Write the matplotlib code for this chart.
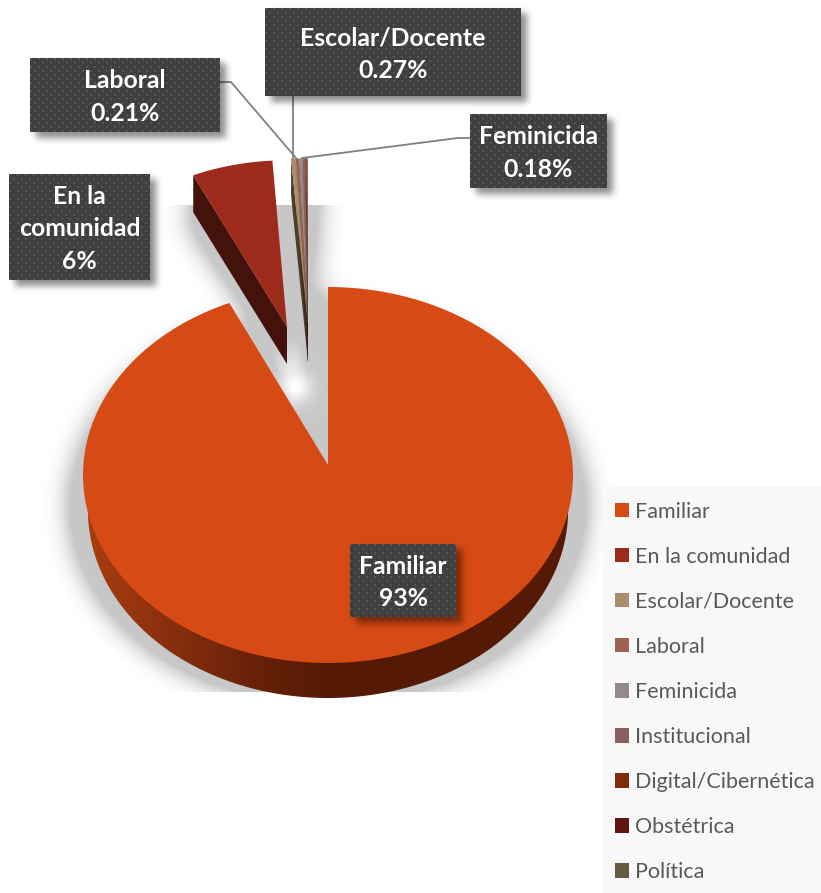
import numpy as np
import matplotlib
matplotlib.use('Agg')
import matplotlib.pyplot as plt
from matplotlib.patches import Polygon, Patch, Rectangle
from matplotlib.path import Path

categories = ['Familiar', 'En la comunidad', 'Escolar/Docente', 'Laboral', 'Feminicida',
              'Institucional', 'Digital/Cibernética', 'Obstétrica', 'Política']
values = [93.4, 5.6, 0.27, 0.21, 0.18, 0.17, 0.08, 0.05, 0.04]
colors = ['#D64A16', '#9C2B1B', '#A68F6A', '#9B6350', '#958888', '#8A5F60', '#7E2C0C', '#5F1510', '#645A3F']
wall_colors = ['#551A06', '#43120A', '#4A3F2A', '#3A2A20', '#3A3030', '#3A2A2A', '#3A1608', '#2A0A08', '#2A2618']
label_names = ['Familiar', 'En la\ncomunidad', 'Escolar/Docente', 'Laboral', 'Feminicida']
label_pcts = ['93%', '6%', '0.27%', '0.21%', '0.18%']

W, H = 821, 893
CX, CY = 328, 465
RX, RY = 245, 188
SKEW = 10
box_rects = [(350, 544, 456, 617), (9, 174, 150, 280), (265, 8, 521, 96), (30, 58, 220, 132), (470, 114, 607, 188)]
leaders = [None, None, [(293, 96), (293, 158)], [(220, 82), (231, 82), (296, 158)], [(470, 138), (458, 138), (302, 158)]]

angles = np.concatenate([[0], np.cumsum(values)]) / sum(values) * 360
grid_y, grid_x = np.mgrid[0:H, 0:W]
grid = np.column_stack([grid_x.ravel() + 0.5, grid_y.ravel() + 0.5])


def arc(start, end, ax0=CX, ay0=CY, sx=1.0, sy=1.0, n=200):
    th = np.radians(np.linspace(start, end, n))
    return np.column_stack([ax0 + RX * sx * np.sin(th), ay0 - RY * sy * np.cos(th) + SKEW])


def wedge(start, end, ax0=CX, ay0=CY, sx=1.0, sy=1.0, n=200):
    return np.vstack([[ax0, ay0], arc(start, end, ax0, ay0, sx, sy, n)])


def blur(img, sigma):
    r = int(sigma * 3)
    k = np.exp(-0.5 * (np.arange(-r, r + 1) / sigma) ** 2)
    k /= k.sum()
    img = np.apply_along_axis(lambda v: np.convolve(v, k, mode='same'), 0, img)
    return np.apply_along_axis(lambda v: np.convolve(v, k, mode='same'), 1, img)


def mask_of(poly):
    return Path(poly).contains_points(grid).reshape(H, W).astype(float)


def shadow_image(alpha):
    rgba = np.zeros((H, W, 4))
    rgba[..., 3] = alpha
    return rgba


def dotted(x0, y0, x1, y1):
    w, h = x1 - x0, y1 - y0
    yy, xx = np.mgrid[0:h, 0:w]
    img = np.full((h, w, 3), 0x3F / 255)
    on = ((yy % 8 < 2) & (xx % 8 < 2)) | (((yy + 4) % 8 < 2) & ((xx + 4) % 8 < 2))
    img[on] = 0x54 / 255
    return img


fig = plt.figure(figsize=(W / 100, H / 100), dpi=100)
ax = fig.add_axes([0, 0, 1, 1])

# apex of each slice after pulling it out of the pie
apex = [(CX, CY), (287, 327)] + [(308, 325)] * 7
scale = [(1.0, 1.0), (0.95, 0.94)] + [(1.1, 0.94)] * 7

# shadow under the pie, cut off flat at top and bottom like the original
main = mask_of(wedge(angles[0], angles[1], CX, CY, 1.04, 1.03) + [0, 32])
inner = mask_of(wedge(angles[0], angles[1], CX, CY, 0.85, 0.85))
out1 = mask_of(wedge(angles[1] - 2, angles[2] + 2, apex[1][0], apex[1][1], 0.95, 0.94))
out1b = mask_of(wedge(angles[1] - 2, angles[2] + 2, apex[1][0], apex[1][1], 0.95, 0.94) + [0, 37])
out2 = mask_of(wedge(angles[2] - 3, 362, apex[2][0], apex[2][1], 0.95, 0.94) + [0, 20])
column = mask_of([(306, 300), (330, 300), (330, 470), (318, 470)])
shadow = blur(np.maximum.reduce([main, inner, out1, out1b, out2, column]), 14)
shadow = np.clip(shadow * 2.5, 0, 1) * 0.22
# light spot in the gap between the slices
shadow *= 1 - 0.95 * np.exp(-((grid_x - 295) ** 2 + (grid_y - 387) ** 2) / (2 * 11.0 ** 2))
shadow[:205] = 0
shadow[692:] = 0
ax.imshow(shadow_image(shadow), extent=(0, W, H, 0), aspect='auto', zorder=1, interpolation='nearest')

# side wall of the main slice
wall_poly = np.vstack([arc(90, 90, n=1), arc(90, 270, CX, CY + 35, 0.98, 1.0, n=300), arc(270, 270, n=1)])
wall_patch = Polygon(wall_poly, closed=True, fc='none', ec='none', zorder=2)
ax.add_patch(wall_patch)
gx = np.arange(W)
ramp_x = [85, 140, 200, 260, 330, 573]
ramp_r = [0xAA, 0x94, 0x7C, 0x66, 0x55, 0x55]
ramp_g = [0x3E, 0x34, 0x2A, 0x20, 0x1A, 0x1A]
ramp_b = [0x10, 0x0E, 0x0C, 0x08, 0x06, 0x06]
ramp = np.stack([np.interp(gx, ramp_x, ramp_r), np.interp(gx, ramp_x, ramp_g), np.interp(gx, ramp_x, ramp_b)], axis=1)[None] / 255
ramp_im = ax.imshow(ramp, extent=(0, W, H, 0), aspect='auto', zorder=2)
ramp_im.set_clip_path(wall_patch)

# slices, the pulled out ones with a dark wall below their left edge
for i in range(len(values)):
    a0, a1 = angles[i], angles[i + 1]
    ax0, ay0 = apex[i]
    sx, sy = scale[i]
    face = wedge(a0, a1, ax0, ay0, sx, sy)
    if i > 0:
        corner = face[1]
        ax.add_patch(Polygon([(ax0, ay0), (ax0, ay0 + 37), (corner[0], corner[1] + 37), tuple(corner)],
                             closed=True, fc=wall_colors[i], ec='none', zorder=3))
for i in range(len(values)):
    face = wedge(angles[i], angles[i + 1], apex[i][0], apex[i][1], scale[i][0], scale[i][1])
    ax.add_patch(Polygon(face, closed=True, fc=colors[i], ec='none', zorder=4))

# leader lines
for pts in leaders:
    if pts:
        ax.plot([p[0] for p in pts], [p[1] for p in pts], color='#808080', lw=1.3, zorder=5)

# label boxes with soft shadow and dotted fill
box_sh = np.zeros((H, W))
for (x0, y0, x1, y1) in box_rects:
    box_sh[y0 + 5:y1 + 6, x0 + 6:x1 + 6] = 1
ax.imshow(shadow_image(blur(box_sh, 3.5) * 0.45), extent=(0, W, H, 0), aspect='auto', zorder=6, interpolation='nearest')
for (x0, y0, x1, y1), name, pct in zip(box_rects, label_names, label_pcts):
    ax.imshow(dotted(x0, y0, x1, y1), extent=(x0, x1, y1, y0), aspect='auto', zorder=7, interpolation='nearest')
    ax.text((x0 + x1) / 2, (y0 + y1) / 2 + 2, name + '\n' + pct, color='white', family='Lato', weight='bold',
            fontsize=17.8, ha='center', va='center', linespacing=1.5, zorder=8)

# legend
ax.add_patch(Rectangle((603, 487), W - 603, H - 487, fc='#F8F8F8', ec='none', zorder=1))
handles = [Patch(fc=c, ec='none') for c in colors]
leg = ax.legend(handles, categories, loc='upper left', bbox_to_anchor=(604 / W, 1 - 491 / H), frameon=False,
                prop={'family': 'Lato', 'size': 15.5}, labelcolor='#595959', handlelength=0.65, handleheight=0.65,
                handletextpad=0.28, labelspacing=1.163, borderpad=0.5, borderaxespad=0)
leg.set_zorder(9)

ax.set_xlim(0, W)
ax.set_ylim(H, 0)
ax.axis('off')
fig.savefig('out.png', dpi=100, facecolor='white')
